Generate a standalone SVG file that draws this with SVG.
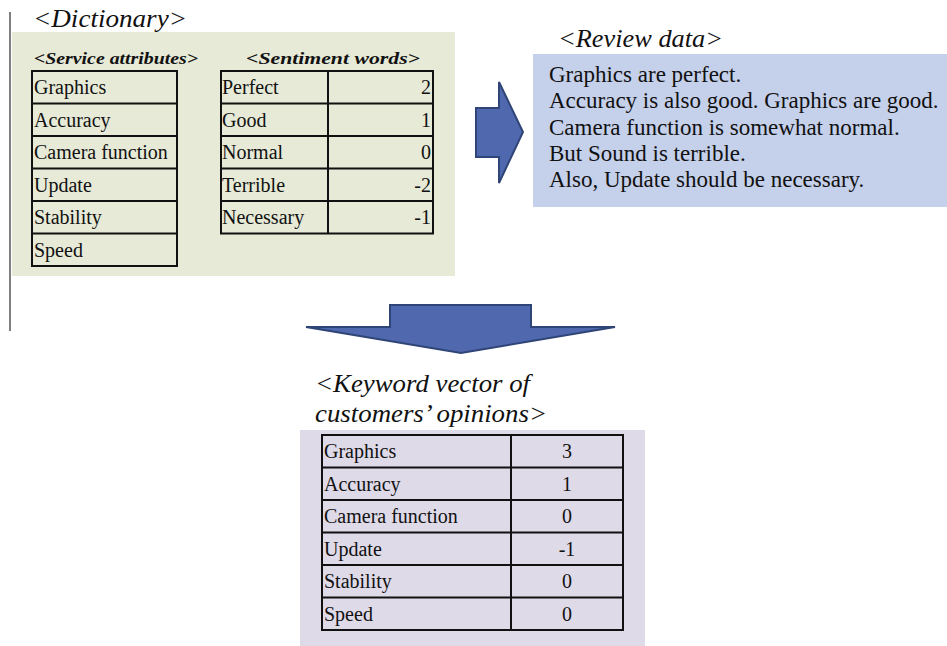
<svg xmlns="http://www.w3.org/2000/svg" width="947" height="646" viewBox="0 0 947 646">
<style>
.title{font-family:"Liberation Serif",serif;font-style:italic;font-size:26px;fill:#111}
.hdr{font-family:"Liberation Serif",serif;font-style:italic;font-weight:bold;font-size:17px;fill:#111}
.cell{font-family:"Liberation Serif",serif;font-size:20px;fill:#111}
.rev{font-family:"Liberation Serif",serif;font-size:23px;fill:#111}
.grid{fill:none;stroke:#111;stroke-width:2}
.arrow{fill:#5068AE;stroke:#2F4577;stroke-width:2;stroke-linejoin:miter}
</style>
<rect width="947" height="646" fill="#ffffff"/>
<line x1="10" y1="12" x2="10" y2="331" stroke="#555" stroke-width="1.5"/>

<g id="dictionary">
<rect x="12" y="32" width="443" height="244" fill="#E6EAD7"/>
<text class="title" x="33" y="27" textLength="154" lengthAdjust="spacingAndGlyphs">&lt;Dictionary&gt;</text>
<g id="service-attributes">
<text class="hdr" x="34" y="64" textLength="164" lengthAdjust="spacingAndGlyphs">&lt;Service attributes&gt;</text>
<rect class="grid" x="32" y="71" width="145" height="195"/>
<path class="grid" d="M32 103.5H177M32 136H177M32 168.5H177M32 201H177M32 233.5H177"/>
<text class="cell" x="34" y="94">Graphics</text>
<text class="cell" x="34" y="126.5">Accuracy</text>
<text class="cell" x="34" y="159">Camera function</text>
<text class="cell" x="34" y="191.5">Update</text>
<text class="cell" x="34" y="224">Stability</text>
<text class="cell" x="34" y="256.5">Speed</text>
</g>
<g id="sentiment-words">
<text class="hdr" x="246" y="64" textLength="174" lengthAdjust="spacingAndGlyphs">&lt;Sentiment words&gt;</text>
<rect class="grid" x="221" y="71" width="212" height="162.5"/>
<path class="grid" d="M328 71V233.5M221 103.5H433M221 136H433M221 168.5H433M221 201H433"/>
<text class="cell" x="222" y="94">Perfect</text>
<text class="cell" x="222" y="126.5">Good</text>
<text class="cell" x="222" y="159">Normal</text>
<text class="cell" x="222" y="191.5">Terrible</text>
<text class="cell" x="222" y="224">Necessary</text>
<g text-anchor="end">
<text class="cell" x="431" y="94">2</text>
<text class="cell" x="431" y="126.5">1</text>
<text class="cell" x="431" y="159">0</text>
<text class="cell" x="431" y="191.5">-2</text>
<text class="cell" x="431" y="224">-1</text>
</g>
</g>
</g>

<g id="review-data">
<text class="title" x="558" y="47" textLength="165" lengthAdjust="spacingAndGlyphs">&lt;Review data&gt;</text>
<rect x="533" y="54" width="414" height="153" fill="#C5D0EB"/>
<text class="rev" x="549" y="82">Graphics are perfect.</text>
<text class="rev" x="549" y="108">Accuracy is also good. Graphics are good.</text>
<text class="rev" x="549" y="135">Camera function is somewhat normal.</text>
<text class="rev" x="549" y="161">But Sound is terrible.</text>
<text class="rev" x="549" y="187">Also, Update should be necessary.</text>
</g>

<g id="keyword-vector">
<text class="title" x="315" y="392" textLength="215" lengthAdjust="spacingAndGlyphs">&lt;Keyword vector of</text>
<text class="title" x="315" y="422" textLength="232" lengthAdjust="spacingAndGlyphs">customers’ opinions&gt;</text>
<rect x="300" y="430" width="345" height="216" fill="#DFDAE8"/>
<rect class="grid" x="322" y="435" width="301" height="195"/>
<path class="grid" d="M511 435V630M322 467.5H623M322 500H623M322 532.5H623M322 565H623M322 597.5H623"/>
<text class="cell" x="324" y="458">Graphics</text>
<text class="cell" x="324" y="490.5">Accuracy</text>
<text class="cell" x="324" y="523">Camera function</text>
<text class="cell" x="324" y="555.5">Update</text>
<text class="cell" x="324" y="588">Stability</text>
<text class="cell" x="324" y="620.5">Speed</text>
<g text-anchor="middle">
<text class="cell" x="567" y="458">3</text>
<text class="cell" x="567" y="490.5">1</text>
<text class="cell" x="567" y="523">0</text>
<text class="cell" x="567" y="555.5">-1</text>
<text class="cell" x="567" y="588">0</text>
<text class="cell" x="567" y="620.5">0</text>
</g>
</g>

<g id="connectors">
<polygon class="arrow" points="476,108 499,108 499,82 523,132 499,183 499,157 476,157"/>
<polygon class="arrow" points="390,305 531,305 531,327 615,327 461,353 306,327 390,327"/>
</g>
</svg>
